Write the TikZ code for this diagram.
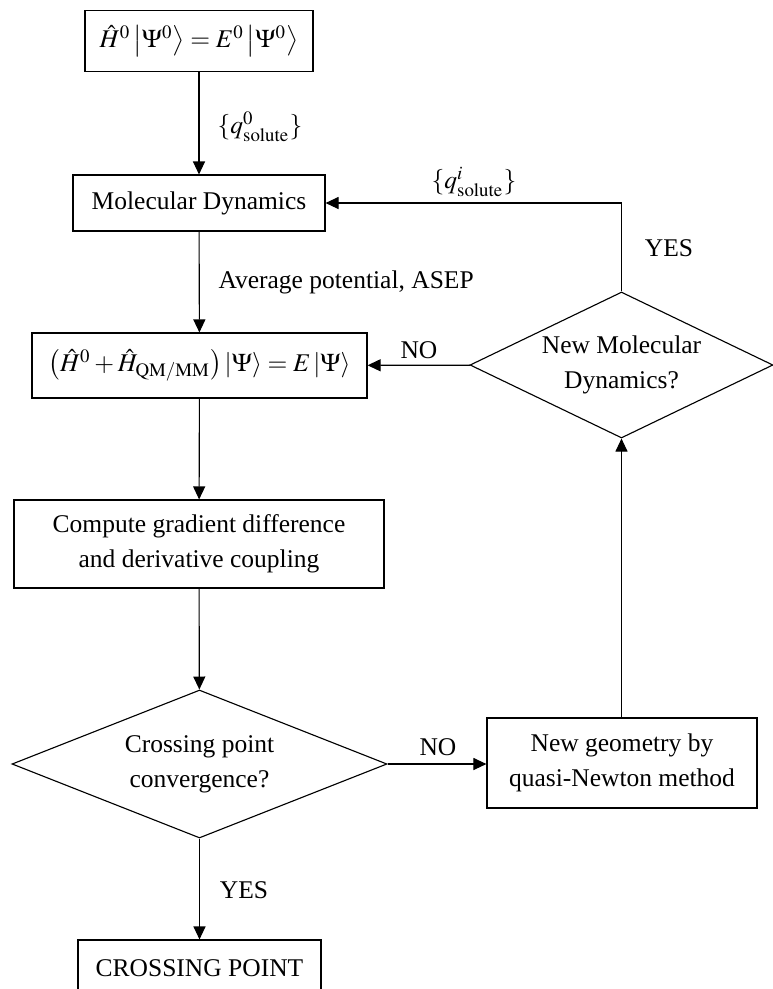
\documentclass[tikz,border=0pt]{standalone}
\usepackage{mathptmx}
\usepackage[no-math]{fontspec}
\setmainfont{Liberation Serif}
\usepackage{tikz}
\usetikzlibrary{arrows.meta}
\usetikzlibrary{shapes.geometric}

\tikzset{
  txt/.style = {font=\fontsize{10.2}{14}\selectfont, align=center, inner sep=0pt},
  stepbox/.style = {txt, draw, rectangle},
  choice/.style = {txt, draw, diamond},
  flow/.style = {-{Triangle[length=5.2pt,width=4.8pt]}},
}

\begin{document}
\begin{tikzpicture} [x =0.4pt, y =-0.4pt, line width =0.45pt]
 \useasboundingbox (0,0) rectangle (773,989);
 \draw (199,41) node (hzero) [stepbox, minimum width=91.2pt, minimum height=24.4pt] {$\hat{H}^0 \left|\Psi^0\right\rangle = E^0 \left|\Psi^0\right\rangle$};
 \draw (199,203) node (md) [stepbox, minimum width=100.8pt, minimum height=22.4pt] {Molecular Dynamics};
 \draw (199.5,365.5) node (hqm) [stepbox, minimum width=134pt, minimum height=26pt] {$\big(\hat{H}^0 + \hat{H}_{\mathrm{QM/MM}}\big) \left|\Psi\right\rangle = E \left|\Psi\right\rangle$};
 \draw (199,544) node (grad) [stepbox, minimum width=148pt, minimum height=35.2pt] {Compute gradient difference\\and derivative coupling};
 \draw (199.5,764) node (conv) [choice, aspect=2.53, minimum width=150pt, minimum height=59.2pt] {Crossing point\\convergence?};
 \draw (199.5,968) node (cp) [stepbox, minimum width=97.2pt, minimum height=22.4pt] {CROSSING POINT};
 \draw (622,763) node (newgeo) [stepbox, minimum width=108pt, minimum height=36pt] {New geometry by\\quasi-Newton method};
 \draw (621.5,365) node (newmd) [choice, aspect=2.08, minimum width=121.2pt, minimum height=58.4pt] {New Molecular\\Dynamics?};

 \draw (260,127) node (qzero) [txt] {$\{q^0_{\mathrm{solute}}\}$};
 \draw (218,282) node (avg) [txt, anchor=west] {Average potential, ASEP};
 \draw (474,182) node (qi) [txt] {$\{q^i_{\mathrm{solute}}\}$};
 \draw (669,248) node (yesup) [txt] {YES};
 \draw (419,350) node (noup) [txt] {NO};
 \draw (438,747) node (nolow) [txt] {NO};
 \draw (244,890) node (yeslow) [txt] {YES};

 \draw [flow] (hzero) -- (md);
 \draw [flow] (md) -- (hqm);
 \draw [flow] (hqm) -- (grad);
 \draw [flow] (grad) -- (conv);
 \draw [flow] (conv) -- (cp);
 \draw [flow] (conv) -- (conv -| newgeo.west);
 \draw [flow] (newgeo.north -| newmd.south) -- (newmd.south);
 \draw [flow] (newmd) -- (hqm);
 \draw [flow] (newmd.north) |- (md.east);
\end{tikzpicture}
\end{document}
